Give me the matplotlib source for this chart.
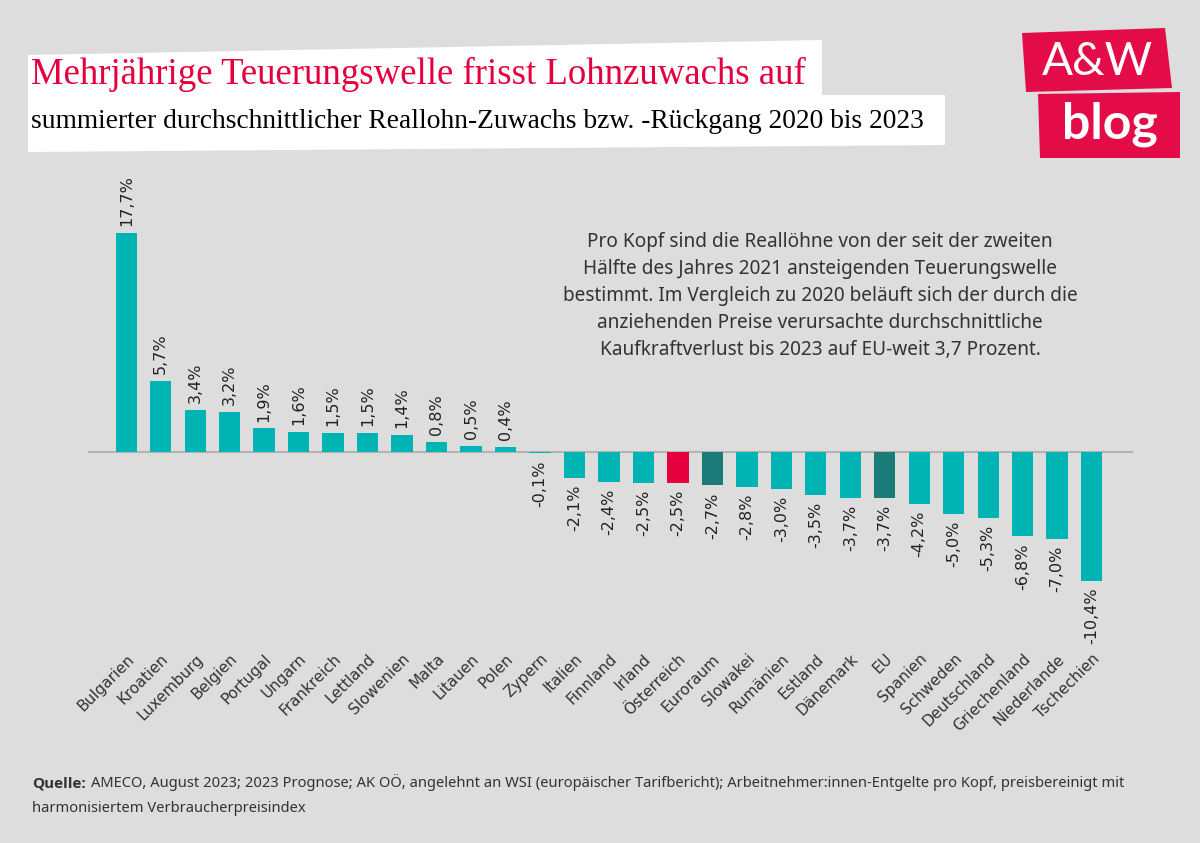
import matplotlib.pyplot as plt
from matplotlib.patches import Polygon

# Daten
laender = ['Bulgarien', 'Kroatien', 'Luxemburg', 'Belgien', 'Portugal', 'Ungarn',
           'Frankreich', 'Lettland', 'Slowenien', 'Malta', 'Litauen', 'Polen',
           'Zypern', 'Italien', 'Finnland', 'Irland', 'Österreich', 'Euroraum',
           'Slowakei', 'Rumänien', 'Estland', 'Dänemark', 'EU', 'Spanien',
           'Schweden', 'Deutschland', 'Griechenland', 'Niederlande', 'Tschechien']
werte = [17.7, 5.7, 3.4, 3.2, 1.9, 1.6, 1.5, 1.5, 1.4, 0.8, 0.5, 0.4,
         -0.1, -2.1, -2.4, -2.5, -2.5, -2.7, -2.8, -3.0, -3.5, -3.7, -3.7,
         -4.2, -5.0, -5.3, -6.8, -7.0, -10.4]

TEAL = '#00b4b4'
ROT = '#e5003d'
DUNKEL = '#1a7b78'
HG = '#dddddd'

farben = []
for land in laender:
    if land == 'Österreich':
        farben.append(ROT)
    elif land in ('Euroraum', 'EU'):
        farben.append(DUNKEL)
    else:
        farben.append(TEAL)

W, H = 1200, 843
fig = plt.figure(figsize=(W / 100, H / 100), dpi=100, facecolor=HG)


def fx(px):
    return px / W


def fy(py):
    return 1 - py / H


# Diagramm
ax = fig.add_axes([fx(88), fy(640), fx(1133) - fx(88), fy(160) - fy(640)])
ax.set_facecolor(HG)
x = list(range(len(laender)))
ax.bar(x, werte, width=0.62, color=farben, zorder=2)
ax.axhline(0, color='#b3b3b3', lw=1.5, zorder=1)
ax.set_xlim(-1.11, 29.2)
ax.set_ylim(-15.2, 23.6)

for i, v in zip(x, werte):
    s = f'{v:.1f}%'.replace('.', ',')
    if v >= 0:
        ax.annotate(s, (i, v), xytext=(0, 5), textcoords='offset points',
                    rotation=90, ha='center', va='bottom', fontsize=11.5,
                    color='#222222', family='DejaVu Sans')
    else:
        ax.annotate(s, (i, v), xytext=(0, -5), textcoords='offset points',
                    rotation=90, ha='center', va='top', fontsize=11.5,
                    color='#222222', family='DejaVu Sans')

ax.set_xticks(x)
ax.set_xticklabels(laender, rotation=45, ha='right', rotation_mode='anchor',
                   fontsize=11, color='#333333', family='DejaVu Sans')
ax.tick_params(axis='x', length=0, pad=8)
ax.set_yticks([])
for sp in ax.spines.values():
    sp.set_visible(False)

# Titelkasten
kasten = [(28, 55), (822, 40), (822, 95), (945, 95), (945, 145), (28, 152)]
fig.patches.append(Polygon([(fx(a), fy(b)) for a, b in kasten], closed=True,
                           transform=fig.transFigure, facecolor='white',
                           edgecolor='none', zorder=0))
fig.text(fx(31), fy(74), 'Mehrjährige Teuerungswelle frisst Lohnzuwachs auf',
         color=ROT, fontsize=26.5, family='Liberation Serif', va='center')
fig.text(fx(31), fy(121),
         'summierter durchschnittlicher Reallohn-Zuwachs bzw. -Rückgang 2020 bis 2023',
         color='black', fontsize=19.8, family='Liberation Serif', va='center')

# Logo
logo1 = [(1022, 33), (1165, 28), (1172, 88), (1026, 92)]
logo2 = [(1038, 94), (1180, 92), (1180, 158), (1040, 158)]
for poly in (logo1, logo2):
    fig.patches.append(Polygon([(fx(a), fy(b)) for a, b in poly], closed=True,
                               transform=fig.transFigure, facecolor='#e30c48',
                               edgecolor='none'))
fig.text(fx(1097), fy(62), 'A&W', color='white', fontsize=33, family='Lato',
         ha='center', va='center')
fig.text(fx(1110), fy(124), 'blog', color='white', fontsize=36, family='Lato',
         fontweight='bold', ha='center', va='center')

# Erläuterung
info = ('Pro Kopf sind die Reallöhne von der seit der zweiten\n'
        'Hälfte des Jahres 2021 ansteigenden Teuerungswelle\n'
        'bestimmt. Im Vergleich zu 2020 beläuft sich der durch die\n'
        'anziehenden Preise verursachte durchschnittliche\n'
        'Kaufkraftverlust bis 2023 auf EU-weit 3,7 Prozent.')
fig.text(fx(820), fy(296), info, ha='center', va='center', fontsize=13.7,
         color='#333333', family='Noto Sans', linespacing=1.45)

# Quelle
fig.text(fx(32), fy(783), 'Quelle:', fontsize=11, fontweight='bold',
         color='#333333', family='Open Sans', va='center')
fig.text(fx(91), fy(783),
         'AMECO, August 2023; 2023 Prognose; AK OÖ, angelehnt an WSI (europäischer Tarifbericht); '
         'Arbeitnehmer:innen-Entgelte pro Kopf, preisbereinigt mit',
         fontsize=10.6, color='#333333', family='Noto Sans', va='center')
fig.text(fx(32), fy(808), 'harmonisiertem Verbraucherpreisindex',
         fontsize=10.6, color='#333333', family='Noto Sans', va='center')

fig.savefig('out.png', dpi=100, facecolor=HG)
